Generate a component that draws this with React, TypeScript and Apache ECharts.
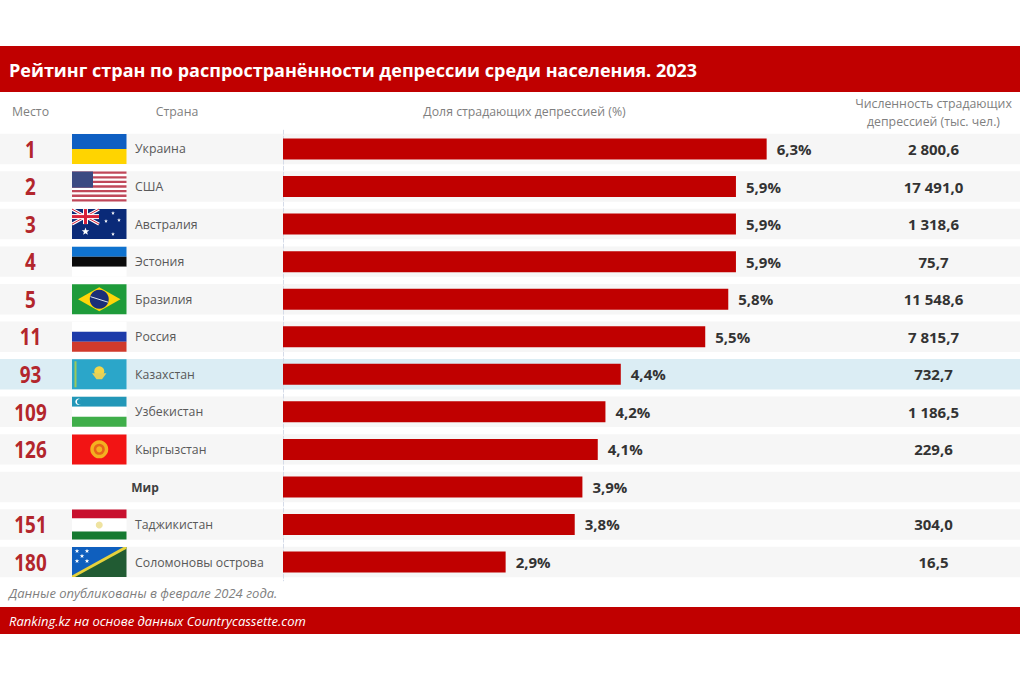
import React, { useEffect, useRef } from "react";
import * as echarts from "echarts";

const titleText = "Рейтинг стран по распространённости депрессии среди населения. 2023";
const noteText = "Данные опубликованы в феврале 2024 года.";
const sourceText = "Ranking.kz на основе данных Countrycassette.com";
const ranks = ["1", "2", "3", "4", "5", "11", "93", "109", "126", "", "151", "180"];
const countries = ["Украина", "США", "Австралия", "Эстония", "Бразилия", "Россия", "Казахстан", "Узбекистан", "Кыргызстан", "Мир", "Таджикистан", "Соломоновы острова"];
const flagKeys = ["ua", "us", "au", "ee", "br", "ru", "kz", "uz", "kg", "", "tj", "sb"];
const shares = [6.3, 5.9, 5.9, 5.9, 5.8, 5.5, 4.4, 4.2, 4.1, 3.9, 3.8, 2.9];
const counts = ["2 800,6", "17 491,0", "1 318,6", "75,7", "11 548,6", "7 815,7", "732,7", "1 186,5", "229,6", "", "304,0", "16,5"];

const FONT = '"Open Sans", "Noto Sans", sans-serif';
const RED = "#C00000";
const W = 54.5;
const H = 30;

const rect = (x: number, y: number, width: number, height: number, fill: string) => ({
  type: "rect", shape: { x, y, width, height }, style: { fill },
});
const circle = (cx: number, cy: number, r: number, fill: string) => ({
  type: "circle", shape: { cx, cy, r }, style: { fill },
});
const poly = (points: number[][], fill: string) => ({ type: "polygon", shape: { points }, style: { fill } });
const line = (x1: number, y1: number, x2: number, y2: number, stroke: string, lineWidth: number) => ({
  type: "line", shape: { x1, y1, x2, y2 }, style: { stroke, lineWidth },
});
const star = (cx: number, cy: number, r: number, fill: string) => {
  const pts: number[][] = [];
  for (let i = 0; i < 10; i++) {
    const a = -Math.PI / 2 + (i * Math.PI) / 5;
    const q = i % 2 ? r * 0.42 : r;
    pts.push([cx + q * Math.cos(a), cy + q * Math.sin(a)]);
  }
  return poly(pts, fill);
};

function flag(key: string): any[] {
  switch (key) {
    case "ua":
      return [rect(0, 0, W, H / 2, "#0F5FC2"), rect(0, H / 2, W, H / 2, "#FFD400")];
    case "us": {
      const out: any[] = [rect(0, 0, W, H, "#FFFFFF")];
      for (let i = 0; i < 13; i += 2) out.push(rect(0, (i * H) / 13, W, H / 13, "#C0485A"));
      out.push(rect(0, 0, 21, (7 * H) / 13, "#3B4A82"));
      return out;
    }
    case "au":
      return [
        rect(0, 0, W, H, "#0A2A78"),
        line(0, 0, 27, 15, "#FFFFFF", 3),
        line(27, 0, 0, 15, "#FFFFFF", 3),
        line(0, 0, 27, 15, "#D8213A", 1),
        line(27, 0, 0, 15, "#D8213A", 1),
        rect(11, 0, 5, 15, "#FFFFFF"),
        rect(0, 5, 27, 5, "#FFFFFF"),
        rect(12, 0, 3, 15, "#D8213A"),
        rect(0, 6, 27, 3, "#D8213A"),
        star(13.5, 22.5, 4, "#FFFFFF"),
        star(41, 4, 2, "#FFFFFF"),
        star(34, 12, 2, "#FFFFFF"),
        star(47, 11, 2, "#FFFFFF"),
        star(41, 25, 2, "#FFFFFF"),
      ];
    case "ee":
      return [rect(0, 0, W, 10, "#0F72CE"), rect(0, 10, W, 10, "#0A0A0A"), rect(0, 20, W, 10, "#FFFFFF")];
    case "br":
      return [
        rect(0, 0, W, H, "#1E9B3A"),
        poly([[6, 15], [27.25, 3], [48.5, 15], [27.25, 27]], "#FFD60A"),
        circle(27.25, 15, 9.5, "#1B2F78"),
        line(18.5, 12.5, 36, 18, "#DDE7F0", 1),
      ];
    case "ru":
      return [rect(0, 0, W, 10, "#FFFFFF"), rect(0, 10, W, 10, "#1C3AA9"), rect(0, 20, W, 10, "#D03A2C")];
    case "kz":
      return [
        rect(0, 0, W, H, "#2BA6C9"),
        rect(2.5, 2, 2, 26, "#9CC95A"),
        circle(27.25, 12, 5, "#F2D64A"),
        poly([[20, 14], [34.5, 14], [30, 20], [24.5, 20]], "#E4D05A"),
      ];
    case "uz":
      return [
        rect(0, 0, W, 10, "#2297B8"),
        rect(0, 10, W, 10, "#FFFFFF"),
        rect(0, 20, W, 10, "#3FAE4A"),
        circle(6.5, 5, 3.2, "#FFFFFF"),
        circle(7.8, 5, 2.9, "#2297B8"),
      ];
    case "kg":
      return [rect(0, 0, W, H, "#F21414"), circle(27.25, 15, 9, "#F4B020"), circle(27.25, 15, 5.5, "#E8641A"), circle(27.25, 15, 3, "#F4B020")];
    case "tj":
      return [
        rect(0, 0, W, 9, "#C8102E"),
        rect(0, 9, W, 13, "#FFFFFF"),
        rect(0, 22, W, 8, "#157A30"),
        circle(27.25, 15.5, 3.5, "#EFE3A0"),
      ];
    case "sb":
      return [
        rect(0, 0, W, H, "#215B33"),
        poly([[0, 0], [W, 0], [0, H]], "#0F5FBE"),
        poly([[0, H], [0, H - 1.6], [W - 3, 0], [W, 0], [W, 1.6], [3, H]], "#E6D23C"),
        star(5, 4, 2.4, "#FFFFFF"),
        star(15, 4, 2.4, "#FFFFFF"),
        star(10, 9, 2.4, "#FFFFFF"),
        star(5, 14, 2.4, "#FFFFFF"),
        star(15, 14, 2.4, "#FFFFFF"),
      ];
    default:
      return [];
  }
}

const txt = (x: number, y: number, text: string, font: string, fill: string, align = "center", scaleX = 1) => ({
  type: "text", x, y, scaleX, style: { text, font, fill, textAlign: align, textVerticalAlign: "middle" },
});

const renderRow = (params: any, api: any) => {
  const i = api.value(1);
  const [x0, y] = api.coord([0, i]);
  const rowH = api.size([0, 1])[1];
  const bandH = rowH * 0.81;
  const width = params.coordSys.x + params.coordSys.width;
  const isKz = countries[i] === "Казахстан";
  const isWorld = countries[i] === "Мир";
  const children: any[] = [rect(0, y - bandH / 2, width, bandH, isKz ? "#DBEDF4" : "#F6F6F6")];
  if (ranks[i]) children.push(txt(30.5, y, ranks[i], `bold 23px ${FONT}`, "#B3262C", "center", 0.82));
  if (flagKeys[i]) children.push({ type: "group", x: 72, y: y - H / 2, children: flag(flagKeys[i]) });
  if (isWorld) children.push(txt(145, y + 0.5, countries[i], `bold 12px ${FONT}`, "#404040"));
  else children.push(txt(135, y, countries[i], `12.3px ${FONT}`, "#595959", "left"));
  if (counts[i]) children.push(txt(x0 + 650.5, y, counts[i], `bold 15px ${FONT}`, "#333333"));
  return { type: "group", children };
};

export default function App() {
  const ref = useRef<HTMLDivElement>(null);
  useEffect(() => {
    document.body.style.margin = "0";
    const chart = echarts.init(ref.current!, undefined, { renderer: "svg" });
    const head = (x: number, y: number, text: string) => ({
      type: "text", x, y,
      style: { text, font: `12.3px ${FONT}`, fill: "#7F7F7F", textAlign: "center", textVerticalAlign: "middle" },
    });
    chart.setOption({
      animation: false,
      backgroundColor: "#FFFFFF",
      grid: { left: 283, right: 0, top: 130.2, height: 450.6 },
      xAxis: { type: "value", min: 0, max: 9.6, show: false },
      yAxis: {
        type: "category", inverse: true, data: countries, z: 3,
        axisLine: { show: true, lineStyle: { color: "#D5DBE8", type: "dashed", width: 1 } },
        axisTick: { show: false }, axisLabel: { show: false },
      },
      graphic: [
        { type: "rect", shape: { x: 0, y: 46, width: 1020, height: 46 }, style: { fill: RED } },
        { type: "rect", shape: { x: 0, y: 607, width: 1020, height: 27 }, style: { fill: RED } },
        { type: "text", x: 9, y: 69.5, style: { text: titleText, font: `bold 18px ${FONT}`, fill: "#FFFFFF", textVerticalAlign: "middle" } },
        head(30.5, 111.5, "Место"),
        head(177, 111.5, "Страна"),
        head(524.5, 111.5, "Доля страдающих депрессией (%)"),
        head(933.5, 103, "Численность страдающих"),
        head(933.5, 121, "депрессией (тыс. чел.)"),
        { type: "text", x: 9, y: 593, style: { text: noteText, font: `italic 13px ${FONT}`, fill: "#7F7F7F", textVerticalAlign: "middle" } },
        { type: "text", x: 9, y: 620.5, style: { text: sourceText, font: `italic 13px ${FONT}`, fill: "#FFFFFF", textVerticalAlign: "middle" } },
      ],
      series: [
        {
          type: "custom", z: 2, silent: true, clip: false,
          encode: { x: 0, y: 1 },
          data: countries.map((_, i) => [0, i]),
          renderItem: renderRow,
        },
        {
          type: "bar", z: 4, barWidth: 21, data: shares,
          itemStyle: { color: RED },
          label: {
            show: true, position: "right", distance: 10,
            fontFamily: FONT, fontWeight: "bold", fontSize: 15, color: "#333333",
            formatter: (p: any) => `${String(p.value).replace(".", ",")}%`,
          },
        },
      ],
    });
    return () => chart.dispose();
  }, []);
  return <div ref={ref} style={{ width: 1020, height: 680 }} />;
}
